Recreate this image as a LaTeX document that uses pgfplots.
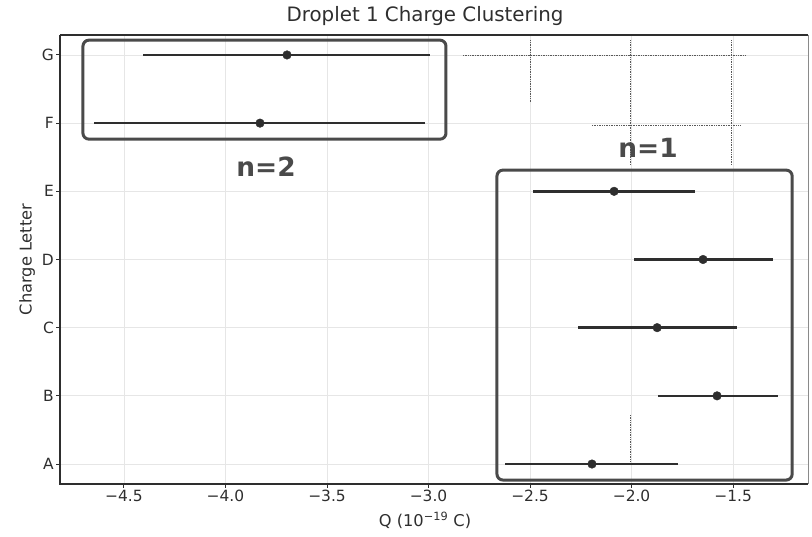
\documentclass[border=0pt]{standalone}
\usepackage{fontspec}
\setmainfont{DejaVu Sans}
\usepackage{pgfplots}
\pgfplotsset{compat=1.18}

\definecolor{ink}{HTML}{2E2E2E}
\definecolor{pen}{HTML}{4A4A4A}
\definecolor{gridc}{HTML}{E6E6E6}

\begin{document}
\begin{tikzpicture}[x=1bp,y=1bp]
\useasboundingbox (0,0) rectangle (812,537);
\begin{axis}[
    at={(60bp,53bp)}, anchor=south west,
    scale only axis, width=748bp, height=449bp,
    xmin=-4.815, xmax=-1.131, ymin=-0.293, ymax=6.293,
    xtick={-4.5,-4,-3.5,-3,-2.5,-2,-1.5},
    xticklabels={−4.5,−4.0,−3.5,−3.0,−2.5,−2.0,−1.5},
    ytick={0,1,2,3,4,5,6},
    yticklabels={A,B,C,D,E,F,G},
    tick align=outside, tick pos=left, major tick length=4bp,
    grid=major, grid style={gridc, line width=0.8bp},
    axis line style={draw=none},
    tick style={ink, line width=1bp},
    tick label style={font=\fontsize{15.5}{18}\selectfont, text=ink},
    xticklabel style={anchor=north, inner sep=0pt, yshift=-2bp},
    yticklabel style={anchor=east, inner sep=0pt, xshift=-2bp},
    title={Droplet 1 Charge Clustering},
    title style={at={(0.488,1)}, anchor=south, inner sep=0pt, yshift=3bp,
        font=\fontsize{19.9}{22}\selectfont, text=ink},
    xlabel={Q (10\textsuperscript{−19} C)},
    xlabel style={at={(axis description cs:0.488,0)}, anchor=north, inner sep=0pt,
        yshift=-28bp, font=\fontsize{16.3}{18}\selectfont, text=ink},
    ylabel={Charge Letter},
    ylabel style={at={(axis description cs:-0.044,0.5)}, anchor=center, inner sep=0pt,
        font=\fontsize{16.3}{18}\selectfont, text=ink},
    clip=false,
]
% faint artefacts of the scan
\draw[gray!70!black, line width=0.7bp, densely dotted]
    (axis cs:-2.830,6.0) -- (axis cs:-1.441,6.0)
    (axis cs:-2.195,4.97) -- (axis cs:-1.465,4.97)
    (axis cs:-2.5,6.217) -- (axis cs:-2.5,5.308)
    (axis cs:-2.007,6.217) -- (axis cs:-2.007,4.384)
    (axis cs:-1.510,6.217) -- (axis cs:-1.510,4.384)
    (axis cs:-2.007,0.718) -- (axis cs:-2.007,0.015);

\addplot[only marks, mark=*, mark size=4.3bp, color=ink,
    mark options={fill=ink, draw=ink},
    error bars/.cd, x dir=both, x explicit,
    error bar style={line width=2.4bp, ink}, error mark=none]
coordinates {
    (-2.195,0) += (0.424,0) -= (0.428,0)
    (-1.579,1) += (0.301,0) -= (0.291,0)
    (-1.874,2) += (0.394,0) -= (0.390,0)
    (-1.648,3) += (0.345,0) -= (0.340,0)
    (-2.086,4) += (0.399,0) -= (0.399,0)
    (-3.830,5) += (0.813,0) -= (0.818,0)
    (-3.697,6) += (0.704,0) -= (0.709,0)
};

% spines
\draw[ink, line width=1.4bp] (rel axis cs:0,1) -- (rel axis cs:0,0) -- (rel axis cs:1,0);
\draw[ink, line width=1.4bp] (rel axis cs:0,1) -- (rel axis cs:1,1);
\draw[gridc!60!black, line width=0.6bp] (rel axis cs:1,0) -- (rel axis cs:1,1);

% hand-drawn cluster boxes
\draw[pen, line width=3bp, rounded corners=6bp]
    (axis cs:-4.702,4.765) rectangle (axis cs:-2.914,6.217);
\draw[pen, line width=3bp, rounded corners=6bp]
    (axis cs:-2.663,-0.235) rectangle (axis cs:-1.209,4.311);
\node[font=\fontsize{26.5}{30}\selectfont\bfseries, text=pen] at (axis cs:-3.80,4.355) {n=2};
\node[font=\fontsize{26.5}{30}\selectfont\bfseries, text=pen] at (axis cs:-1.919,4.633) {n=1};
\end{axis}
\end{tikzpicture}
\end{document}
